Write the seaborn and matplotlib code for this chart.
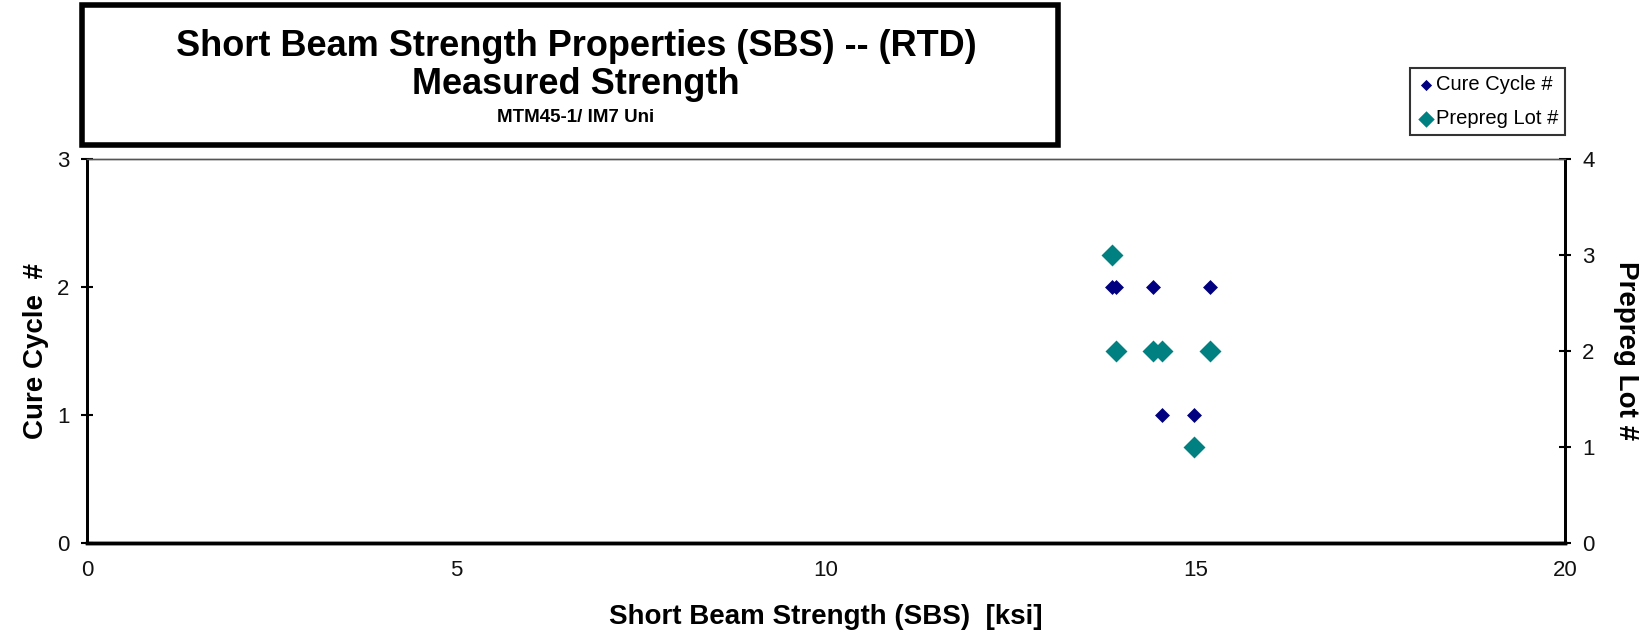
import matplotlib
matplotlib.use("Agg")
import matplotlib.pyplot as plt
from matplotlib.patches import Rectangle
import seaborn as sns
import pandas as pd

# ---- data ----
sbs_ksi = [13.87, 13.92, 14.42, 15.20, 14.55, 14.98]
cure_cycle = [2, 2, 2, 2, 1, 1]
prepreg_lot = [3, 2, 2, 2, 2, 1]

title_lines = ["Short Beam Strength Properties (SBS) -- (RTD)", "Measured Strength", "MTM45-1/ IM7 Uni"]
x_label = "Short Beam Strength (SBS)  [ksi]"
y_left_label = "Cure Cycle  #"
y_right_label = "Prepreg Lot #"
series_names = ["Cure Cycle #", "Prepreg Lot #"]
x_ticks = [0, 5, 10, 15, 20]
y_left_ticks = [0, 1, 2, 3]
y_right_ticks = [0, 1, 2, 3, 4]

df = pd.DataFrame({"sbs": sbs_ksi, "cure": cure_cycle, "lot": prepreg_lot})

sns.set_theme(style="white")
plt.rcParams['font.family'] = ['Liberation Sans', 'DejaVu Sans']
plt.rcParams['text.color'] = 'black'
plt.rcParams['axes.labelcolor'] = 'black'

W, H = 1650, 637
fig = plt.figure(figsize=(W / 100, H / 100), dpi=100)
ax = fig.add_axes([87 / W, 1 - 543 / H, 1478 / W, 384 / H])
ax2 = ax.twinx()

sns.scatterplot(data=df, x="sbs", y="cure", ax=ax, marker="D", s=58, color="#000080",
                linewidth=0, label=series_names[0], legend=False, zorder=3)
sns.scatterplot(data=df, x="sbs", y="lot", ax=ax2, marker="D", s=125, color="#008080",
                linewidth=0, label=series_names[1], legend=False, zorder=3)

ax.set_xlim(0, 20)
ax.set_ylim(0, 3)
ax2.set_ylim(0, 4)
ax.set_xticks(x_ticks)
ax.set_yticks(y_left_ticks)
ax2.set_yticks(y_right_ticks)

for a in (ax, ax2):
    a.tick_params(direction="inout", length=9, width=1.5, colors="black", labelsize=16,
                  labelcolor="#111111")
ax.tick_params(axis="x", pad=8)
ax.tick_params(axis="y", pad=8)
ax2.tick_params(axis="y", pad=8)

for a in (ax, ax2):
    for side, sp in a.spines.items():
        sp.set_color("black")
        sp.set_visible(True)
    a.spines["top"].set_linewidth(1.0)
    a.spines["top"].set_color("#555555")
    a.spines["bottom"].set_linewidth(2.5)
    a.spines["left"].set_linewidth(2.0)
    a.spines["right"].set_linewidth(2.0)

ax.set_xlabel(x_label, fontsize=20, fontweight="bold", labelpad=16, color="black")
ax.set_ylabel(y_left_label, fontsize=20, fontweight="bold", labelpad=6, color="black")
ax2.set_ylabel(y_right_label, fontsize=20, fontweight="bold", rotation=270, labelpad=32, color="black")

# legend combining both series
h1, l1 = ax.get_legend_handles_labels()
h2, l2 = ax2.get_legend_handles_labels()
leg = fig.legend(h1 + h2, l1 + l2, loc="upper right", bbox_to_anchor=(1565 / W, 1 - 68 / H),
                 fontsize=14.5, frameon=True, fancybox=False, shadow=False, handletextpad=0.1,
                 handlelength=0.8, borderpad=0.35, labelspacing=0.75, markerscale=0.75,
                 borderaxespad=0)
leg.get_frame().set_edgecolor("black")
leg.get_frame().set_linewidth(1.5)
for t in leg.get_texts():
    t.set_color("black")

# title box
fig.patches.append(Rectangle((82 / W, 1 - 145 / H), 976 / W, 140 / H, transform=fig.transFigure,
                             fill=True, facecolor="white", edgecolor="black", linewidth=4, zorder=5))
cx = 576 / W
fig.text(cx, 1 - 47 / H, title_lines[0], ha="center", va="center", fontsize=26, fontweight="bold",
         zorder=6, color="black")
fig.text(cx, 1 - 84 / H, title_lines[1], ha="center", va="center", fontsize=26, fontweight="bold",
         zorder=6, color="black")
fig.text(cx, 1 - 117 / H, title_lines[2], ha="center", va="center", fontsize=13.5, fontweight="bold",
         zorder=6, color="black")

fig.savefig("out.png", dpi=100)
